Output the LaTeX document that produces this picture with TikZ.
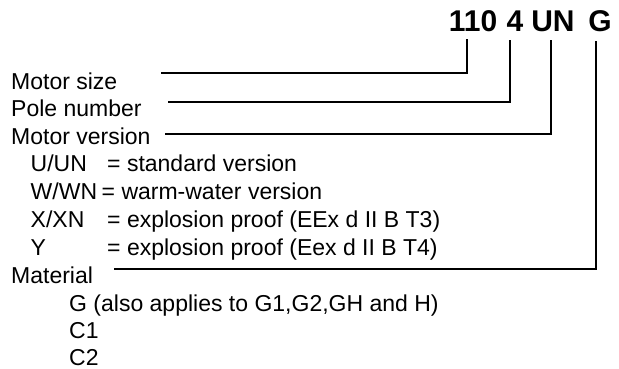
\documentclass[tikz,border=0pt]{standalone}
\usepackage{fontspec}
\setmainfont{Liberation Sans}

\begin{document}
\begin{tikzpicture}[x=1pt,y=-1pt,
  lbl/.style={anchor=base west,inner sep=0pt,font=\fontsize{23}{27}\selectfont},
  code/.style={anchor=base,inner sep=0pt,font=\fontsize{30}{34}\selectfont\bfseries},
  conn/.style={line width=1.3pt,line cap=rect}]
  \useasboundingbox (0,0) rectangle (619,369);
  % ===== type code =====
  \node[code] (c110) at (473,32) {110};
  \node[code] (c4)   at (515,32) {4};
  \node[code] (cUN)  at (553,32) {UN};
  \node[code] (cG)   at (600,32) {G};
  % ===== labels =====
  \node[lbl] (lblsize) at (11,89)  {Motor size};
  \node[lbl] (lblpole) at (11,117) {Pole number};
  \node[lbl] (lblver)  at (11,144) {Motor version};
  % versions
  \node[lbl] (verU) at (30.5,171) {U/UN};
  \node[lbl] (verW) at (30.5,199) {W/WN};
  \node[lbl] (verX) at (30.5,227) {X/XN};
  \node[lbl] (verY) at (30.5,255) {Y};
  \node[lbl] (keyU) at (107,171)  {= standard version};
  \node[lbl] (keyW) at (101.5,199) {= warm-water version};
  \node[lbl] (keyX) at (107,227)  {= explosion proof (EEx d II B T3)};
  \node[lbl] (keyY) at (107,255)  {= explosion proof (Eex d II B T4)};
  % material
  \node[lbl] (lblmat) at (11,283) {Material};
  \node[lbl] (matG)  at (69,311) {G (also applies to G1,G2,GH and H)};
  \node[lbl] (matC1) at (69,338) {C1};
  \node[lbl] (matC2) at (69,365) {C2};
  % ===== connectors =====
  \coordinate (size0) at (162,73);
  \coordinate (pole0) at (169,102);
  \coordinate (ver0)  at (166,134);
  \coordinate (mat0)  at (115,269);
  \draw[conn] (size0) -| ([xshift=-6pt,yshift=-7pt]c110.south);
  \draw[conn] (pole0) -| ([xshift=-5pt,yshift=-8pt]c4.south);
  \draw[conn] (ver0)  -| ([xshift=-2pt,yshift=-8pt]cUN.south);
  \draw[conn] (mat0)  -| ([xshift=-4pt,yshift=-9pt]cG.south);
\end{tikzpicture}
\end{document}
